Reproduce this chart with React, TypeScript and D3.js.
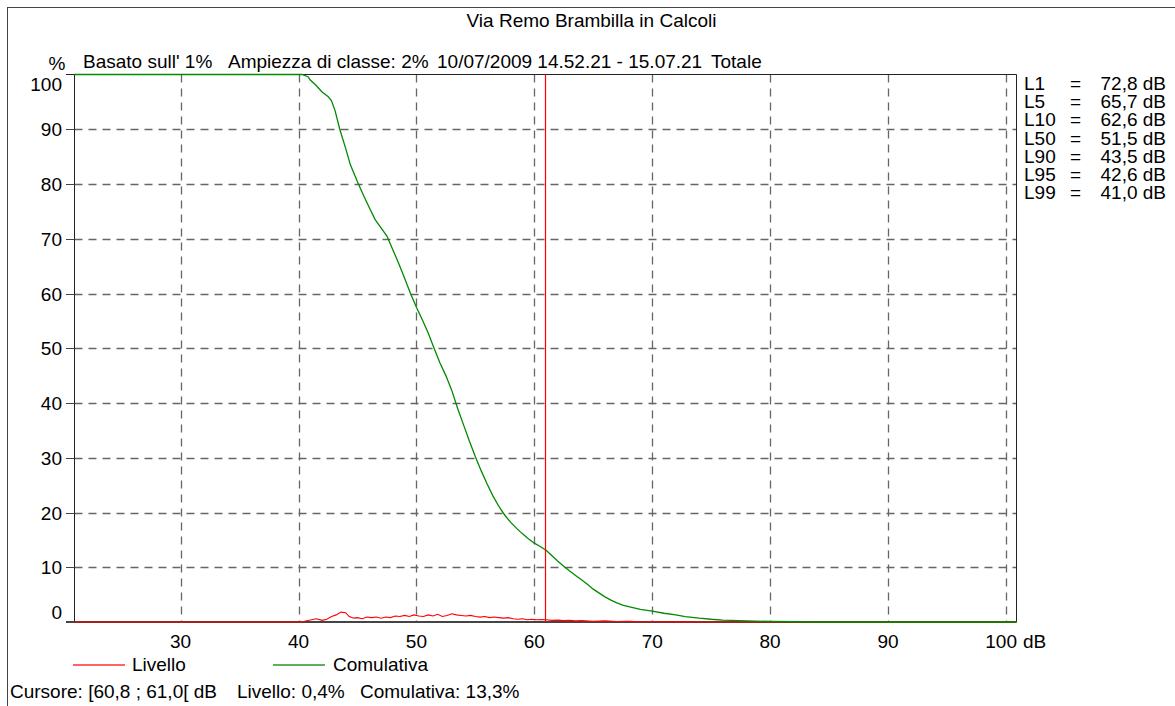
import React from "react";
import * as d3 from "d3";

const TITLE = "Via Remo Brambilla in Calcoli";
const HEADER = ["Basato sull' 1%", "Ampiezza di classe: 2%", "10/07/2009 14.52.21 - 15.07.21", "Totale"];
const X_TICKS = [30, 40, 50, 60, 70, 80, 90, 100];
const Y_TICKS = [0, 10, 20, 30, 40, 50, 60, 70, 80, 90, 100];
const LN_NAMES = ["L1", "L5", "L10", "L50", "L90", "L95", "L99"];
const LN_VALUES = ["72,8 dB", "65,7 dB", "62,6 dB", "51,5 dB", "43,5 dB", "42,6 dB", "41,0 dB"];
const CURSOR_DB = 60.9;
const CURSOR_TEXTS = ["Cursore: [60,8 ; 61,0[ dB", "Livello: 0,4%", "Comulativa: 13,3%"];
const LEGEND = ["Livello", "Comulativa"];

// Comulativa (%)
const CUM_DB = [21, 40.3, 40.8, 41.0, 41.5, 42.0, 42.5, 42.8, 43.1, 43.5, 44.0, 44.4, 45.0, 45.5, 46.0, 46.5, 47.0, 47.5, 48.0, 48.5, 49.0, 49.5, 50.0, 50.5, 51.0, 51.5, 52.0, 52.5, 53.0, 53.5, 54.0, 54.5, 55.0, 55.5, 56.0, 56.5, 57.0, 57.5, 58.0, 58.5, 59.0, 59.5, 60.0, 60.5, 61.0, 61.5, 62.0, 62.6, 63.0, 63.5, 64.0, 64.5, 65.0, 65.7, 66.0, 66.5, 67.0, 67.5, 68.0, 69.0, 70.0, 71.0, 72.0, 72.8, 74.0, 75.0, 76.0, 78.0, 80.0, 82.0, 84.0, 100.9];
const CUM_PCT = [100, 100, 99.6, 99, 98, 96.8, 96, 95.2, 93.4, 90, 86.5, 83.5, 80.4, 78, 75.7, 73.5, 72, 70.5, 68, 65.5, 62.8, 60, 57.5, 55.2, 52.8, 50, 47.3, 45, 42.3, 39, 36, 33, 30.2, 27.6, 25.2, 23.0, 21.1, 19.5, 18.2, 17.1, 16.1, 15.2, 14.4, 13.8, 13.1, 12.1, 11.1, 10, 9.3, 8.5, 7.7, 6.9, 6.0, 5.0, 4.6, 4.0, 3.5, 3.1, 2.8, 2.3, 2.0, 1.6, 1.3, 1.0, 0.7, 0.5, 0.35, 0.2, 0.1, 0.05, 0, 0];

// Livello (%)
const LEV_DB = [21, 40.0, 40.5, 41.0, 41.5, 42.0, 42.4, 42.8, 43.2, 43.6, 44.0, 44.3, 44.7, 45.0, 45.4, 45.8, 46.2, 46.6, 47.0, 47.4, 47.8, 48.2, 48.6, 49.0, 49.4, 49.8, 50.2, 50.6, 51.0, 51.4, 51.8, 52.2, 52.6, 53.0, 53.4, 53.8, 54.2, 54.6, 55.0, 55.4, 55.8, 56.2, 56.6, 57.0, 57.4, 57.8, 58.2, 58.6, 59.0, 59.4, 59.8, 60.2, 60.6, 61.0, 61.5, 62.0, 62.5, 63.0, 63.5, 64.0, 65.0, 66.0, 67.0, 68.0, 69.0, 70.0, 72.0, 75.0, 100.9];
const LEV_PCT = [0, 0, 0.15, 0.35, 0.6, 0.3, 0.5, 1.0, 1.3, 1.8, 1.7, 1.0, 0.7, 0.8, 0.6, 0.9, 0.8, 0.9, 0.7, 0.9, 0.8, 1.1, 1.0, 1.2, 1.0, 1.3, 1.1, 1.0, 1.3, 1.1, 1.4, 1.0, 1.2, 1.5, 1.3, 1.2, 1.1, 1.2, 1.0, 0.9, 1.0, 0.8, 0.9, 0.8, 0.7, 0.8, 0.6, 0.5, 0.6, 0.4, 0.5, 0.4, 0.45, 0.4, 0.3, 0.35, 0.25, 0.3, 0.2, 0.25, 0.15, 0.2, 0.1, 0.12, 0.05, 0.05, 0.02, 0, 0];

const FONT = "'Liberation Sans', Arial, sans-serif";
const FS = 19;

export default function App() {
  const L = 74.5, R = 1016.5, T = 74.5, B = 622;
  const x = d3.scaleLinear().domain([21, 100.9]).range([L, R]);
  const y = d3.scaleLinear().domain([0, 100]).range([B, T]);
  const line = d3.line<[number, number]>().x((d) => x(d[0])).y((d) => y(d[1]));
  const cum = CUM_DB.map((v, i) => [v, CUM_PCT[i]] as [number, number]);
  const lev = LEV_DB.map((v, i) => [v, LEV_PCT[i]] as [number, number]);
  const px = (v: number) => Math.round(v) + 0.5;
  const gridColor = "#666";
  const dash = "8,6";

  return (
    <svg width={1175} height={706} style={{ position: "absolute", left: 0, top: 0, display: "block" }} fontFamily={FONT} fontSize={FS}>
      <rect x={0} y={0} width={1175} height={706} fill="#fff" />
      <rect x={7.5} y={7.5} width={1200} height={800} fill="none" stroke="#444" strokeWidth={1} />
      <text x={591.5} y={27} textAnchor="middle" fill="#000">{TITLE}</text>

      {/* header */}
      <text x={57} y={70} textAnchor="middle">%</text>
      <text x={83} y={68}>{HEADER[0]}</text>
      <text x={228} y={68}>{HEADER[1]}</text>
      <text x={437} y={68}>{HEADER[2]}</text>
      <text x={711} y={68}>{HEADER[3]}</text>

      {/* grid */}
      {Y_TICKS.filter((t) => t > 0 && t < 100).map((t) => (
        <line key={"gy" + t} x1={L} x2={R} y1={px(y(t))} y2={px(y(t))} stroke={gridColor} strokeWidth={1.3} strokeDasharray={dash} />
      ))}
      {X_TICKS.map((t) => (
        <line key={"gx" + t} x1={px(x(t))} x2={px(x(t))} y1={T} y2={B} stroke={gridColor} strokeWidth={1.3} strokeDasharray={dash} />
      ))}

      {/* axes frame */}
      <line x1={L} x2={L} y1={T} y2={B} stroke="#222" />
      <line x1={R} x2={R} y1={T} y2={B} stroke="#222" />
      <line x1={66} x2={R} y1={T} y2={T} stroke="#222" />
      {Y_TICKS.filter((t) => t > 0 && t < 100).map((t) => (
        <line key={"ty" + t} x1={66} x2={L} y1={px(y(t))} y2={px(y(t))} stroke="#444" />
      ))}
      <line x1={66} x2={R} y1={B} y2={B} stroke="#444" strokeWidth={2} />

      {/* y labels */}
      {Y_TICKS.map((t) => {
        let yy = y(t) + 7;
        if (t === 100) yy += 9;
        if (t === 0) yy -= 10;
        return (
          <text key={"ly" + t} x={62} y={yy} textAnchor="end">{t}</text>
        );
      })}
      {/* x labels */}
      {X_TICKS.map((t) => (
        <text key={"lx" + t} x={t === 100 ? 1017 : x(t)} y={648} textAnchor={t === 100 ? "end" : "middle"}>{t}</text>
      ))}
      <text x={1023} y={648}>dB</text>

      {/* series */}
      <path d={line(lev) || ""} fill="none" stroke="#ff0000" strokeWidth={1.1} />
      <path d={line(cum) || ""} fill="none" stroke="#008a00" strokeWidth={1.3} />

      {/* cursor */}
      <line x1={px(x(CURSOR_DB))} x2={px(x(CURSOR_DB))} y1={T} y2={B} stroke="#ff0000" strokeWidth={1.2} />

      {/* Ln legend */}
      {LN_NAMES.map((n, i) => (
        <g key={n}>
          <text x={1024} y={90 + i * 18.2}>{n}</text>
          <text x={1070} y={90 + i * 18.2}>=</text>
          <text x={1166} y={90 + i * 18.2} textAnchor="end">{LN_VALUES[i]}</text>
        </g>
      ))}

      {/* bottom legend */}
      <line x1={73} x2={125} y1={665} y2={665} stroke="#ff3030" strokeWidth={1.5} />
      <text x={132} y={671}>{LEGEND[0]}</text>
      <line x1={273} x2={325} y1={665} y2={665} stroke="#2a952a" strokeWidth={1.5} />
      <text x={333} y={671}>{LEGEND[1]}</text>

      <text x={10} y={698}>{CURSOR_TEXTS[0]}</text>
      <text x={237} y={698}>{CURSOR_TEXTS[1]}</text>
      <text x={360} y={698}>{CURSOR_TEXTS[2]}</text>
    </svg>
  );
}
